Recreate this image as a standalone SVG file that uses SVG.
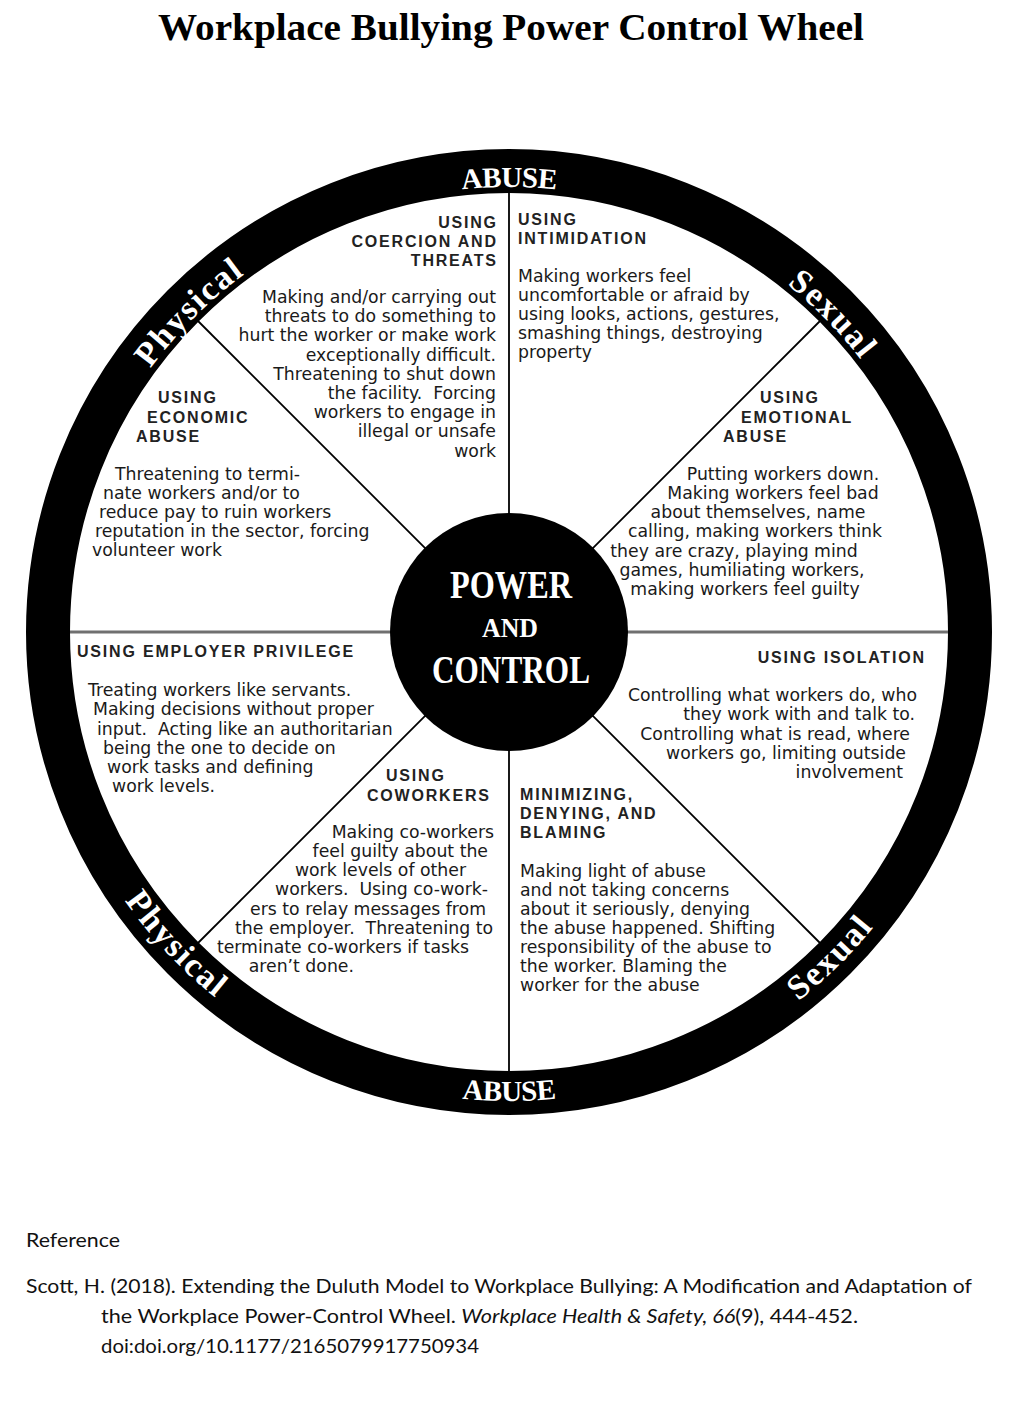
<svg xmlns="http://www.w3.org/2000/svg" xmlns:xlink="http://www.w3.org/1999/xlink" width="1024" height="1411" viewBox="0 0 1024 1411">
<defs>
<style>
.h{font-family:"Liberation Sans",Arial,sans-serif;font-weight:bold;font-size:16px;letter-spacing:1.8px;fill:#222}
.b{font-family:"DejaVu Sans",Verdana,sans-serif;font-size:17.3px;fill:#1a1a1a}
.e{text-anchor:end}
.m{text-anchor:middle}
.ring{font-family:"Liberation Serif","Times New Roman",serif;font-weight:bold;font-size:34px;letter-spacing:1.8px;fill:#fff}
.ab{font-family:"Liberation Serif","Times New Roman",serif;font-weight:bold;font-size:29px;letter-spacing:-0.5px;fill:#fff}
.ctr{font-family:"Liberation Serif","Times New Roman",serif;font-weight:bold;fill:#fff;text-anchor:middle}
.spoke{stroke:#000;stroke-width:1.8;fill:none}
.ref{font-family:Lato,"Open Sans",sans-serif;font-size:19px;fill:#111}
</style>
<path id="arcTop" d="M 64 632 A 445 445 0 0 1 954 632" fill="none"/>
<path id="arcBot" d="M 40 632 A 469 469 0 0 0 978 632" fill="none"/>
</defs>
<rect width="1024" height="1411" fill="#fff"/>

<g id="title">
<text x="511" y="40" font-family="Liberation Serif,'Times New Roman',serif" font-weight="bold" font-size="38" text-anchor="middle" textLength="706" lengthAdjust="spacingAndGlyphs" fill="#000">Workplace Bullying Power Control Wheel</text>
</g>

<circle cx="509" cy="632" r="461" fill="#fff"/>

<g id="connectors">
<line class="spoke" x1="509" y1="190" x2="509" y2="1074"/>
<line x1="67" y1="632" x2="951" y2="632" stroke="#707070" stroke-width="3"/>
<line class="spoke" x1="195" y1="318" x2="823" y2="946" stroke-width="1.6"/>
<line class="spoke" x1="823" y1="318" x2="195" y2="946" stroke-width="1.6"/>
</g>

<g id="wheel-ring">
<circle cx="509" cy="632" r="461" fill="none" stroke="#000" stroke-width="44"/>
<text class="ab m"><textPath href="#arcTop" startOffset="50%">ABUSE</textPath></text>
<text class="ring m"><textPath href="#arcTop" startOffset="25%">Physical</textPath></text>
<text class="ring m"><textPath href="#arcTop" startOffset="75.3%">Sexual</textPath></text>
<text class="ab m"><textPath href="#arcBot" startOffset="50%">ABUSE</textPath></text>
<text class="ring m"><textPath href="#arcBot" startOffset="24%">Physical</textPath></text>
<text class="ring m"><textPath href="#arcBot" startOffset="74.8%">Sexual</textPath></text>
</g>

<g id="center">
<circle cx="509" cy="632" r="119" fill="#000"/>
<text class="ctr" x="511" y="598" font-size="40" textLength="122" lengthAdjust="spacingAndGlyphs">POWER</text>
<text class="ctr" x="510" y="637" font-size="28" textLength="56" lengthAdjust="spacingAndGlyphs">AND</text>
<text class="ctr" x="511" y="683" font-size="40" textLength="158" lengthAdjust="spacingAndGlyphs">CONTROL</text>
</g>

<g id="seg-coercion">
<text class="h e" x="497.8" y="228">USING</text>
<text class="h e" x="497.8" y="247">COERCION AND</text>
<text class="h e" x="497.8" y="266">THREATS</text>
<text class="b e" x="496" y="303">Making and/or carrying out</text>
<text class="b e" x="496" y="322">threats to do something to</text>
<text class="b e" x="496" y="341">hurt the worker or make work</text>
<text class="b e" x="496" y="361">exceptionally difficult.</text>
<text class="b e" x="496" y="380">Threatening to shut down</text>
<text class="b e" x="496" y="399">the facility.&#160; Forcing</text>
<text class="b e" x="496" y="418">workers to engage in</text>
<text class="b e" x="496" y="437">illegal or unsafe</text>
<text class="b e" x="496" y="457">work</text>
</g>

<g id="seg-intimidation">
<text class="h" x="518" y="225">USING</text>
<text class="h" x="518" y="244">INTIMIDATION</text>
<text class="b" x="518" y="282">Making workers feel</text>
<text class="b" x="518" y="301">uncomfortable or afraid by</text>
<text class="b" x="518" y="320">using looks, actions, gestures,</text>
<text class="b" x="518" y="339">smashing things, destroying</text>
<text class="b" x="518" y="358">property</text>
</g>

<g id="seg-economic">
<text class="h" x="158" y="403">USING</text>
<text class="h" x="147" y="423">ECONOMIC</text>
<text class="h" x="136" y="442">ABUSE</text>
<text class="b" x="115" y="480">Threatening to termi-</text>
<text class="b" x="103" y="499">nate workers and/or to</text>
<text class="b" x="99" y="518">reduce pay to ruin workers</text>
<text class="b" x="95" y="537">reputation in the sector, forcing</text>
<text class="b" x="92" y="556">volunteer work</text>
</g>

<g id="seg-emotional">
<text class="h" x="760" y="403">USING</text>
<text class="h" x="741" y="423">EMOTIONAL</text>
<text class="h" x="723" y="442">ABUSE</text>
<text class="b m" x="783" y="480">Putting workers down.</text>
<text class="b m" x="773" y="499">Making workers feel bad</text>
<text class="b m" x="758" y="518">about themselves, name</text>
<text class="b m" x="755" y="537">calling, making workers think</text>
<text class="b m" x="734" y="557">they are crazy, playing mind</text>
<text class="b m" x="742" y="576">games, humiliating workers,</text>
<text class="b m" x="745" y="595">making workers feel guilty</text>
</g>

<g id="seg-employer">
<text class="h" x="77" y="657">USING EMPLOYER PRIVILEGE</text>
<text class="b" x="88" y="696">Treating workers like servants.</text>
<text class="b" x="93" y="715">Making decisions without proper</text>
<text class="b" x="97" y="735">input.&#160; Acting like an authoritarian</text>
<text class="b" x="103" y="754">being the one to decide on</text>
<text class="b" x="107" y="773">work tasks and defining</text>
<text class="b" x="112" y="792">work levels.</text>
</g>

<g id="seg-isolation">
<text class="h e" x="925.8" y="663">USING ISOLATION</text>
<text class="b e" x="917" y="701">Controlling what workers do, who</text>
<text class="b e" x="915" y="720">they work with and talk to.</text>
<text class="b e" x="910" y="740">Controlling what is read, where</text>
<text class="b e" x="906" y="759">workers go, limiting outside</text>
<text class="b e" x="903" y="778">involvement</text>
</g>

<g id="seg-coworkers">
<text class="h" x="386" y="781">USING</text>
<text class="h" x="367" y="801">COWORKERS</text>
<text class="b e" x="494" y="838">Making co-workers</text>
<text class="b e" x="488" y="857">feel guilty about the</text>
<text class="b e" x="466" y="876">work levels of other</text>
<text class="b e" x="488" y="895">workers.&#160; Using co-work-</text>
<text class="b e" x="486" y="915">ers to relay messages from</text>
<text class="b e" x="493" y="934">the employer.&#160; Threatening to</text>
<text class="b e" x="469" y="953">terminate co-workers if tasks</text>
<text class="b e" x="354" y="972">aren’t done.</text>
</g>

<g id="seg-minimizing">
<text class="h" x="520" y="800">MINIMIZING,</text>
<text class="h" x="520" y="819">DENYING, AND</text>
<text class="h" x="520" y="838">BLAMING</text>
<text class="b" x="520" y="877">Making light of abuse</text>
<text class="b" x="520" y="896">and not taking concerns</text>
<text class="b" x="520" y="915">about it seriously, denying</text>
<text class="b" x="520" y="934">the abuse happened. Shifting</text>
<text class="b" x="520" y="953">responsibility of the abuse to</text>
<text class="b" x="520" y="972">the worker. Blaming the</text>
<text class="b" x="520" y="991">worker for the abuse</text>
</g>

<g id="reference">
<text class="ref" x="26" y="1247" textLength="94" lengthAdjust="spacingAndGlyphs">Reference</text>
<text class="ref" x="26" y="1293" textLength="946" lengthAdjust="spacingAndGlyphs">Scott, H. (2018). Extending the Duluth Model to Workplace Bullying: A Modification and Adaptation of</text>
<text class="ref" x="101" y="1323" textLength="757" lengthAdjust="spacingAndGlyphs">the Workplace Power-Control Wheel. <tspan font-style="italic">Workplace Health &amp; Safety, 66</tspan>(9), 444-452.</text>
<text class="ref" x="101" y="1353" textLength="378" lengthAdjust="spacingAndGlyphs">doi:doi.org/10.1177/2165079917750934</text>
</g>
</svg>
